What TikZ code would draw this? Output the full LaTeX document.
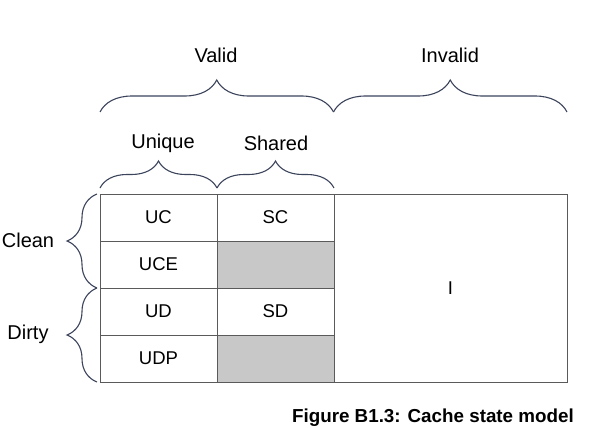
\documentclass[tikz,border=0pt]{standalone}
\usepackage{fontspec}
\setmainfont{Liberation Sans}
\usetikzlibrary{positioning, decorations.pathreplacing}
\definecolor{gridgray}{RGB}{90,90,90}
\definecolor{bracegray}{RGB}{60,68,92}
\definecolor{cellshade}{RGB}{200,200,200}

\begin{document}
\begin{tikzpicture}[x=1pt, y=-1pt,
  cell/.style={rectangle, draw=gridgray, line width=0.9pt, minimum width=117pt,
               minimum height=47pt, inner sep=0pt, outer sep=0pt,
               font=\fontsize{18.5}{22}\selectfont},
  shade/.style={cell, fill=cellshade},
  lbl/.style={font=\fontsize{20}{24}\selectfont, inner sep=1pt},
  bracket/.style={decorate, decoration={brace, amplitude=#1}, draw=bracegray, line width=1.1pt}
]
\useasboundingbox (0,0) rectangle (592,428);

% cache state grid
\node[cell] (UC) at (158.5,217.5) {UC};
\node[cell, right=0pt of UC] (SC) {SC};
\node[cell, below=0pt of UC] (UCE) {UCE};
\node[shade, below=0pt of SC] (SCE) {};
\node[cell, below=0pt of UCE] (UD) {UD};
\node[cell, below=0pt of SCE] (SD) {SD};
\node[cell, below=0pt of UD] (UDP) {UDP};
\node[shade, below=0pt of SD] (SDP) {};
\node[cell, minimum width=233pt, minimum height=188pt, anchor=north west] (I) at (SC.north east) {I};

% braces
\coordinate (vl) at (100,112);
\coordinate (vm) at (333.5,112);
\coordinate (vr) at (567,112);
\draw[bracket=32pt] (vl) -- (vm);
\draw[bracket=32pt] (vm) -- (vr);
\coordinate (ul) at (100,188);
\coordinate (um) at (217,188);
\coordinate (ur) at (334,188);
\draw[bracket=27pt] (ul) -- (um);
\draw[bracket=27pt] (um) -- (ur);
\coordinate (ct) at (97,194);
\coordinate (cm) at (97,288);
\coordinate (cb) at (97,382);
\draw[bracket=30pt] (cm) -- (ct);
\draw[bracket=30pt] (cb) -- (cm);

\node[lbl] (valid) at (216,55) {Valid};
\node[lbl] (invalid) at (450,55) {Invalid};
\node[lbl] (unique) at (163,143) {Unique};
\node[lbl] (shared) at (276,143) {Shared};
\node[lbl] (clean) at (28,240) {Clean};
\node[lbl] (dirty) at (28,334) {Dirty};

\node[anchor=east, font=\fontsize{18.8}{22}\selectfont\bfseries, inner sep=0pt] (caption) at (574,418) {Figure B1.3: Cache state model};
\end{tikzpicture}
\end{document}
